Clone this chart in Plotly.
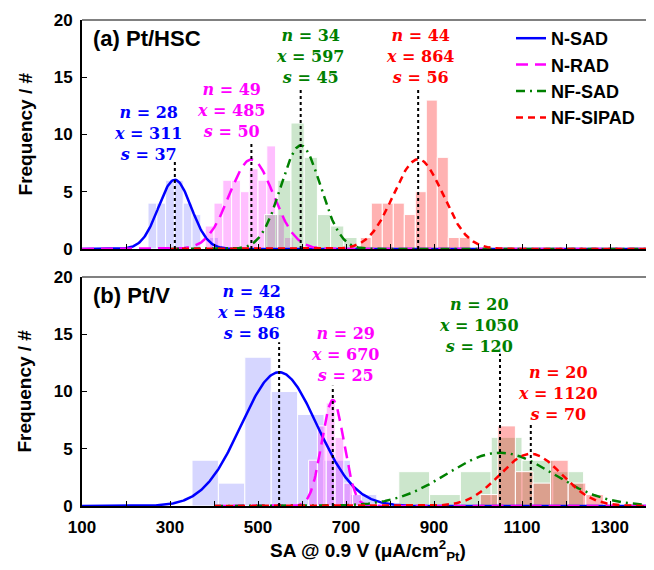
import numpy as np
import plotly.graph_objects as go

# ---- data ----
names = ['N-SAD', 'N-RAD', 'NF-SAD', 'NF-SIPAD']
line_colors = ['#0000FF', '#FF00FF', '#008000', '#FF0000']
bar_colors = ['rgba(0,0,255,0.16)', 'rgba(255,0,255,0.25)',
              'rgba(0,128,0,0.2)', 'rgba(255,0,0,0.3)']
dashes = ['solid', '12px,7px', '9px,5px,2px,5px', '7px,5px']

# (a) Pt/HSC histograms: bin centres, bin width, counts
a_centers = [
    [260, 280, 300, 320, 340, 360, 400],
    [390, 410, 430, 450, 470, 490, 510, 530, 550, 570],
    [530, 560, 590, 620, 650, 680, 710],
    [745, 770, 795, 820, 845, 870, 895, 920, 945, 970],
]
a_width = [20, 20, 30, 25]
a_counts = [
    [4, 4, 6, 6, 4, 3, 1],
    [2, 4, 6, 6, 5, 7, 6, 9, 3, 1],
    [3, 6, 11, 8, 3, 2, 1],
    [1, 4, 4, 4, 3, 5, 13, 8, 1, 1],
]
a_n = [28, 49, 34, 44]
a_mean = [311, 485, 597, 864]
a_sd = [37, 50, 45, 56]
a_line_top = [7.6, 9.3, 14.0, 13.9]
a_label_x = [250, 440, 620, 870]
a_label_y = [10.1, 12.1, 16.8, 16.8]

# (b) Pt/V
b_centers = [
    [380, 440, 500, 560, 620, 680, 740],
    [625, 645, 665, 685, 705, 725],
    [855, 925, 995, 1065, 1135, 1205],
    [1025, 1065, 1105, 1145, 1185, 1225, 1265],
]
b_width = [60, 20, 70, 40]
b_counts = [
    [4, 2, 13, 10, 8, 4, 1],
    [4, 7, 9, 6, 2, 1],
    [3, 1, 3, 6, 4, 3],
    [1, 7, 3, 2, 4, 2, 1],
]
b_n = [42, 29, 20, 20]
b_mean = [548, 670, 1050, 1120]
b_sd = [86, 25, 120, 70]
b_line_top = [14.3, 10.5, 13.3, 7.2]
b_label_x = [485, 698, 1003, 1182]
b_label_y = [16.9, 13.2, 15.8, 9.8]
# fitted curves start here on each panel
a_curve_start = [100, 100, 300, 300]
b_curve_start = [100, 400, 400, 400]

fig = go.Figure()


def add_panel(centers, widths, counts, n, mean, sd, tops, lx, ly, start, xa, ya, legend):
    for i in range(4):
        fig.add_trace(go.Bar(x=centers[i], y=counts[i], width=widths[i],
                             marker=dict(color=bar_colors[i], line=dict(color='white', width=1)),
                             showlegend=False, hoverinfo='skip', xaxis=xa, yaxis=ya))
    for i in range(4):
        # normal curve fitted to each histogram (n, mean, sd shown on the chart)
        xs = np.linspace(start[i], 1400, 600)
        amp = n[i] * widths[i] / (sd[i] * np.sqrt(2 * np.pi))
        ys = amp * np.exp(-(xs - mean[i]) ** 2 / (2 * sd[i] ** 2))
        fig.add_trace(go.Scatter(x=xs, y=ys, mode='lines', name=names[i],
                                 line=dict(color=line_colors[i], width=2.5, dash=dashes[i]),
                                 showlegend=legend, xaxis=xa, yaxis=ya))
    for i in range(4):
        fig.add_trace(go.Scatter(x=[mean[i], mean[i]], y=[0, tops[i]], mode='lines',
                                 line=dict(color='black', width=2, dash='dot'),
                                 showlegend=False, xaxis=xa, yaxis=ya))
        fig.add_annotation(x=lx[i], y=ly[i], xref=xa, yref=ya, showarrow=False,
                           text='<b><i>n</i> = %d<br><i>x</i> = %d<br><i>s</i> = %d</b>'
                                % (n[i], mean[i], sd[i]),
                           font=dict(family='DejaVu Serif', size=16, color=line_colors[i]))


add_panel(a_centers, a_width, a_counts, a_n, a_mean, a_sd, a_line_top,
          a_label_x, a_label_y, a_curve_start, 'x', 'y', True)
add_panel(b_centers, b_width, b_counts, b_n, b_mean, b_sd, b_line_top,
          b_label_x, b_label_y, b_curve_start, 'x2', 'y2', False)

tick_font = dict(family='Liberation Sans', size=17, color='black', weight='bold')
title_font = dict(family='Liberation Sans', size=19, color='black', weight='bold')
xcommon = dict(range=[100, 1400], tick0=100, dtick=200, ticks='inside', ticklen=5,
               tickcolor='black', showline=True, linecolor='black', linewidth=2,
               showgrid=False, zeroline=False, tickfont=tick_font, ticklabelstandoff=5,
               minor=dict(dtick=100, ticks='inside', ticklen=5, tickcolor='black'))
ycommon = dict(range=[0, 20], dtick=5, ticks='inside', ticklen=5, tickcolor='black',
               showline=True, linecolor='black', linewidth=2, showgrid=False,
               zeroline=False, tickfont=tick_font, ticklabelstandoff=4)

# page body adds an 8px offset, so the figure is 8px smaller and margins shifted
fig.update_layout(
    width=646, height=562,
    margin=dict(l=74, r=0, t=12, b=64),
    plot_bgcolor='white', paper_bgcolor='white',
    barmode='overlay',
    xaxis=dict(xcommon, anchor='y', showticklabels=False),
    yaxis=dict(ycommon, domain=[0.529, 1], anchor='x'),
    xaxis2=dict(xcommon, anchor='y2'),
    yaxis2=dict(ycommon, domain=[0, 0.471], anchor='x2'),
    legend=dict(x=0.75, y=1.0, xanchor='left', yanchor='top', bgcolor='rgba(0,0,0,0)',
                font=dict(family='Liberation Sans', size=18, color='black', weight='bold'),
                tracegroupgap=0),
)

# axis titles as annotations so their positions can be set exactly
fig.add_annotation(x=0.5, y=0, xref='paper', yref='paper', yshift=-44, yanchor='middle',
                   showarrow=False, font=title_font,
                   text='<b>SA @ 0.9 V (μA/cm<sup>2</sup><sub>Pt</sub>)</b>')
for ya in ['y', 'y2']:
    fig.add_annotation(x=0, y=0.5, xref='paper', yref=ya + ' domain', xshift=-57,
                       xanchor='center', yanchor='middle', textangle=-90, showarrow=False,
                       font=title_font, text='<b>Frequency / #</b>')

for xa, ya, label in [('x', 'y', '(a) Pt/HSC'), ('x2', 'y2', '(b) Pt/V')]:
    fig.add_shape(type='line', xref=xa + ' domain', yref=ya + ' domain',
                  x0=0, x1=1, y0=1, y1=1, line=dict(color='#808080', width=2))
    fig.add_annotation(x=0.015, y=0.92, xref=xa + ' domain', yref=ya + ' domain',
                       xanchor='left', yanchor='middle', showarrow=False, text='<b>%s</b>' % label,
                       font=dict(family='Liberation Sans', size=22, color='black'))

fig.write_html("out.html")
